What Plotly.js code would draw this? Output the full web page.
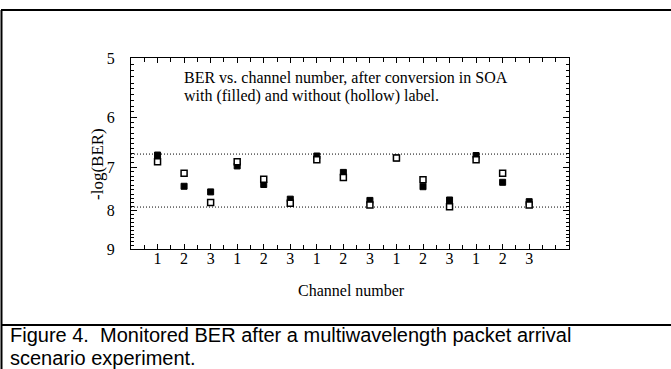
<!DOCTYPE html>
<html>
<head>
<meta charset="utf-8">
<script src="https://cdn.plot.ly/plotly-3.0.1.min.js"></script>
<style>html,body{margin:0;padding:0;background:#fff;}#chart{width:671px;height:369px;}</style>
</head>
<body>
<div id="chart"></div>
<script>
// Data
const positions = [1,2,3,4,5,6,7,8,9,10,11,12,13,14,15];
const channelLabels = ["1","2","3","1","2","3","1","2","3","1","2","3","1","2","3"];
const withLabel = [6.74,7.42,7.55,6.97,7.38,7.72,6.76,7.11,7.75,6.80,7.43,7.74,6.75,7.33,7.78];     // filled
const withoutLabel = [6.88,7.13,7.80,6.88,7.26,7.82,6.84,7.22,7.86,6.80,7.27,7.90,6.84,7.13,7.86];  // hollow
const thresholds = [6.72, 7.91];
const yTicks = [5,6,7,8,9];
const xRange = [0, 16.5];

const serif = "Liberation Serif, Times New Roman, serif";
const sans = "Liberation Sans, Arial, sans-serif";

const yMinor = [];
for (let v = 5; v < 9; v += 0.1) { const r = Math.round(v*10)/10; if (r % 1 !== 0) yMinor.push(r); }
const xMinor = [];
for (let v = 0.5; v <= 16; v += 0.5) xMinor.push(v);

const traces = thresholds.map(t => ({
  x: xRange, y: [t, t], mode: 'lines', type: 'scatter',
  line: {color: 'black', width: 1, dash: '1px,2px'}, hoverinfo: 'skip', showlegend: false
}));
traces.push({
  x: positions, y: withLabel, mode: 'markers', type: 'scatter', showlegend: false,
  marker: {symbol: 'square', size: 6, color: 'black', line: {color: 'black', width: 1}}
});
traces.push({
  x: positions, y: withoutLabel, mode: 'markers', type: 'scatter', showlegend: false,
  marker: {symbol: 'square', size: 6, color: 'white', line: {color: 'black', width: 1.5}}
});

const px = x => (x - 131) / 438;
const py = y => (249 - y) / 191;

const layout = {
  width: 671, height: 369,
  margin: {l: 131, r: 102, t: 58, b: 120},
  paper_bgcolor: 'white', plot_bgcolor: 'white',
  showlegend: false,
  font: {family: serif, size: 16, color: 'black'},
  xaxis: {
    range: xRange, showgrid: false, zeroline: false,
    showline: true, linecolor: 'black', linewidth: 1, mirror: 'allticks',
    ticks: 'inside', ticklen: 5, tickcolor: 'black', tickwidth: 1,
    tickmode: 'array', tickvals: positions, ticktext: channelLabels,
    tickfont: {family: serif, size: 16, color: 'black'},
    ticklabelstandoff: -5,
    minor: {tickmode: 'array', tickvals: xMinor, ticks: 'inside', ticklen: 4, tickcolor: 'black', tickwidth: 1, showgrid: false}
  },
  yaxis: {
    type: 'log', range: [Math.log10(9), Math.log10(5)], showgrid: false, zeroline: false,
    showline: true, linecolor: 'black', linewidth: 1, mirror: 'allticks',
    ticks: 'inside', ticklen: 6, tickcolor: 'black', tickwidth: 1,
    tickmode: 'array', tickvals: yTicks, ticktext: yTicks.map(String),
    tickfont: {family: serif, size: 16, color: 'black'},
    ticklabelstandoff: 12,
    minor: {tickmode: 'array', tickvals: yMinor, ticks: 'inside', ticklen: 3, tickcolor: 'black', tickwidth: 1, showgrid: false}
  },
  annotations: [
    {xref: 'paper', yref: 'paper', x: px(182), y: py(77), xanchor: 'left', yanchor: 'middle', showarrow: false,
     text: 'BER vs. channel number, after conversion in SOA', font: {family: serif, size: 16, color: 'black'}},
    {xref: 'paper', yref: 'paper', x: px(182), y: py(96), xanchor: 'left', yanchor: 'middle', showarrow: false,
     text: 'with (filled) and without (hollow) label.', font: {family: serif, size: 16, color: 'black'}},
    {xref: 'paper', yref: 'paper', x: px(97), y: py(164), xanchor: 'center', yanchor: 'middle', showarrow: false, textangle: -90,
     text: '-log(BER)', font: {family: serif, size: 17, color: 'black'}},
    {xref: 'paper', yref: 'paper', x: px(351), y: py(290), xanchor: 'center', yanchor: 'middle', showarrow: false,
     text: 'Channel number', font: {family: serif, size: 16, color: 'black'}},
    {xref: 'paper', yref: 'paper', x: px(8), y: py(335), xanchor: 'left', yanchor: 'middle', showarrow: false,
     text: 'Figure 4.  Monitored BER after a multiwavelength packet arrival', font: {family: sans, size: 20, color: 'black'}},
    {xref: 'paper', yref: 'paper', x: px(8), y: py(357.5), xanchor: 'left', yanchor: 'middle', showarrow: false,
     text: 'scenario experiment.', font: {family: sans, size: 20, color: 'black'}}
  ],
  shapes: [
    {type: 'line', xref: 'paper', yref: 'paper', x0: px(1), x1: px(700), y0: py(10), y1: py(10), line: {color: 'black', width: 2}},
    {type: 'line', xref: 'paper', yref: 'paper', x0: px(1.5), x1: px(1.5), y0: py(10), y1: py(380), line: {color: 'black', width: 2}},
    {type: 'line', xref: 'paper', yref: 'paper', x0: px(1), x1: px(700), y0: py(325), y1: py(325), line: {color: 'black', width: 2}}
  ]
};

Plotly.newPlot('chart', traces, layout, {staticPlot: true, displayModeBar: false});
</script>
</body>
</html>
